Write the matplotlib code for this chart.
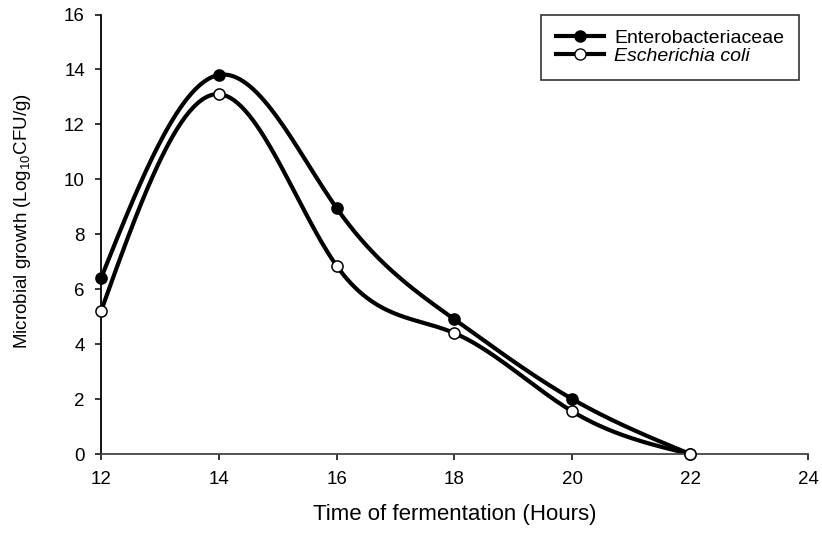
import numpy as np
import matplotlib
matplotlib.use('Agg')
import matplotlib.pyplot as plt

# ----------------------------------------------------------------------
# DATA
# ----------------------------------------------------------------------
hours = [12, 14, 16, 18, 20, 22]
entero = [6.4, 13.8, 8.95, 4.9, 2.0, 0.0]
ecoli = [5.2, 13.1, 6.85, 4.4, 1.55, 0.0]
x_ticks = [12, 14, 16, 18, 20, 22, 24]
y_ticks = [0, 2, 4, 6, 8, 10, 12, 14, 16]
# ----------------------------------------------------------------------

plt.rcParams['font.family'] = ['Liberation Sans', 'DejaVu Sans']
plt.rcParams['mathtext.fontset'] = 'custom'
plt.rcParams['mathtext.rm'] = 'Liberation Sans'


def natural_spline(x, y, n=300):
    # natural cubic spline through the data points, for a smooth line
    x = np.asarray(x, float)
    y = np.asarray(y, float)
    k = len(x)
    h = np.diff(x)
    A = np.zeros((k, k))
    b = np.zeros(k)
    A[0, 0] = A[-1, -1] = 1
    for i in range(1, k - 1):
        A[i, i - 1] = h[i - 1]
        A[i, i] = 2 * (h[i - 1] + h[i])
        A[i, i + 1] = h[i]
        b[i] = 6 * ((y[i + 1] - y[i]) / h[i] - (y[i] - y[i - 1]) / h[i - 1])
    M = np.linalg.solve(A, b)
    xs = np.linspace(x[0], x[-1], n)
    idx = np.clip(np.searchsorted(x, xs) - 1, 0, k - 2)
    x0, x1 = x[idx], x[idx + 1]
    hh = x1 - x0
    t0, t1 = x1 - xs, xs - x0
    ys = (M[idx] * t0 ** 3 + M[idx + 1] * t1 ** 3) / (6 * hh) \
        + (y[idx] / hh - M[idx] * hh / 6) * t0 \
        + (y[idx + 1] / hh - M[idx + 1] * hh / 6) * t1
    return xs, ys


fig = plt.figure(figsize=(8.22, 5.34), dpi=100)
ax = fig.add_axes([0.1229, 0.1498, 0.860, 0.823])

LW = 3.0
MS = 8.0
for vals, face in [(entero, 'black'), (ecoli, 'white')]:
    xs, ys = natural_spline(hours, vals)
    ax.plot(xs, ys, color='black', lw=LW, zorder=2)
    ax.plot(hours, vals, ls='none', marker='o', ms=MS, mfc=face,
            mec='black', mew=1.1, zorder=3, clip_on=False)

# legend proxies
h1, = ax.plot([], [], color='black', lw=LW, marker='o', ms=MS, mfc='black', mec='black')
h2, = ax.plot([], [], color='black', lw=LW, marker='o', ms=MS, mfc='white', mec='black')
leg = ax.legend([h1, h2], ['Enterobacteriaceae', 'Escherichia coli'],
                loc='upper right', bbox_to_anchor=(0.987, 1.0), fontsize=14,
                frameon=True, fancybox=False, edgecolor='black',
                handlelength=2.5, handletextpad=0.5, borderpad=0.75,
                labelspacing=0.05, borderaxespad=0)
leg.get_frame().set_linewidth(1.2)
leg.get_texts()[1].set_style('italic')

ax.set_xlim(12, 24)
ax.set_ylim(0, 16)
ax.set_xticks(x_ticks)
ax.set_yticks(y_ticks)
ax.tick_params(labelsize=13.5, direction='out', length=4.6, width=1.1)
ax.tick_params(axis='x', pad=7.5)
ax.tick_params(axis='y', pad=7)
for s in ['top', 'right']:
    ax.spines[s].set_visible(False)
for s in ['left', 'bottom']:
    ax.spines[s].set_linewidth(1.3)
ax.spines['bottom'].set_color('#444444')

ax.set_xlabel('Time of fermentation (Hours)', fontsize=16, labelpad=11.5)
ax.set_ylabel('Microbial growth (Log$_{10}$CFU/g)', fontsize=13.5)
ax.yaxis.set_label_coords(-0.096, 0.53)

fig.savefig('out.png', dpi=100)
